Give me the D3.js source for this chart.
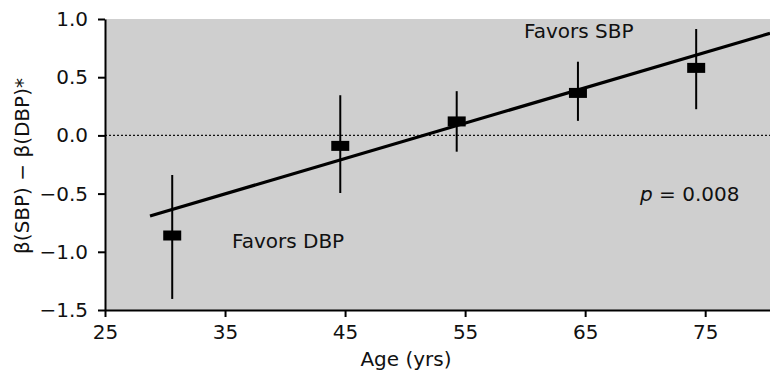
<!DOCTYPE html>
<html>
<head>
<meta charset="utf-8">
<script src="https://cdn.jsdelivr.net/npm/d3@7"></script>
<style>
  html, body { margin: 0; padding: 0; background: #fff; }
  svg { display: block; }
  text { font-family: "DejaVu Sans", sans-serif; fill: #111; }
</style>
</head>
<body>
<svg id="chart" width="770" height="376"></svg>
<script>
// ---- data ----
const ages      = [30.6, 44.6, 54.3, 64.4, 74.25];
const estimates = [-0.86, -0.09, 0.12, 0.365, 0.58];
const lower     = [-1.405, -0.495, -0.14, 0.125, 0.225];
const upper     = [-0.34, 0.345, 0.38, 0.633, 0.914];
const fitAges   = [28.75, 80.4];
const fitValues = [-0.692, 0.877];
const xTicks    = [25, 35, 45, 55, 65, 75];
const yTicks    = [-1.5, -1.0, -0.5, 0.0, 0.5, 1.0];
const xDomain   = [25, 80.4];
const yDomain   = [-1.5, 1.0];

(function () {
const svg = d3.select("#chart");
const mLeft = 105, mRight = 770, mTop = 19, mBottom = 310;

const x = d3.scaleLinear().domain(xDomain).range([mLeft, mRight]);
const y = d3.scaleLinear().domain(yDomain).range([mBottom, mTop]);

// plot background
svg.append("rect")
  .attr("x", x(xDomain[0])).attr("y", y(yDomain[1]))
  .attr("width", x(xDomain[1]) - x(xDomain[0]))
  .attr("height", y(yDomain[0]) - y(yDomain[1]))
  .attr("fill", "#cfcfcf");

// zero reference line
svg.append("line")
  .attr("x1", x(xDomain[0])).attr("x2", x(xDomain[1]))
  .attr("y1", y(0)).attr("y2", y(0))
  .attr("stroke", "#111").attr("stroke-width", 1.2)
  .attr("stroke-dasharray", "2,2");

// regression line
const fit = fitAges.map((a, i) => [a, fitValues[i]]);
svg.append("path")
  .datum(fit)
  .attr("d", d3.line().x(d => x(d[0])).y(d => y(d[1])))
  .attr("stroke", "#000").attr("stroke-width", 3.2).attr("fill", "none");

const pts = ages.map((a, i) => ({ age: a, est: estimates[i], lo: lower[i], hi: upper[i] }));

// error bars
svg.selectAll("line.err").data(pts).join("line")
  .attr("class", "err")
  .attr("x1", d => x(d.age)).attr("x2", d => x(d.age))
  .attr("y1", d => y(d.hi)).attr("y2", d => y(d.lo))
  .attr("stroke", "#000").attr("stroke-width", 2);

// square markers
svg.selectAll("rect.pt").data(pts).join("rect")
  .attr("class", "pt")
  .attr("x", d => x(d.age) - 9).attr("y", d => y(d.est) - 5)
  .attr("width", 18).attr("height", 10)
  .attr("fill", "#000");

// axes
const fmt = d3.format(".1f");
const yAxis = svg.append("g")
  .attr("transform", `translate(${mLeft},0)`)
  .call(d3.axisLeft(y).tickValues(yTicks).tickFormat(fmt).tickSize(7).tickPadding(10).tickSizeOuter(0));
const xAxis = svg.append("g")
  .attr("transform", `translate(0,${mBottom})`)
  .call(d3.axisBottom(x).tickValues(xTicks).tickFormat(d3.format("d")).tickSize(7).tickPadding(8).tickSizeOuter(0));

[yAxis, xAxis].forEach(g => {
  g.select(".domain").attr("stroke", "#000").attr("stroke-width", 2);
  g.selectAll(".tick line").attr("stroke", "#000").attr("stroke-width", 2);
  g.selectAll(".tick text").attr("font-size", 20).attr("fill", "#111")
    .style("font-family", '"DejaVu Sans", sans-serif');
});

// axis titles
svg.append("text")
  .attr("x", 406).attr("y", 366)
  .attr("text-anchor", "middle").attr("font-size", 20)
  .text("Age (yrs)");

svg.append("text")
  .attr("transform", "translate(29,166) rotate(-90)")
  .attr("text-anchor", "middle").attr("font-size", 20)
  .text("β(SBP) − β(DBP)*");

// annotations
svg.append("text").attr("x", 524).attr("y", 38).attr("font-size", 20).text("Favors SBP");
svg.append("text").attr("x", 232).attr("y", 248).attr("font-size", 20).text("Favors DBP");
const pt = svg.append("text").attr("x", 640).attr("y", 201).attr("font-size", 20);
pt.append("tspan").attr("font-style", "italic").text("p");
pt.append("tspan").text(" = 0.008");
})();
</script>
</body>
</html>
